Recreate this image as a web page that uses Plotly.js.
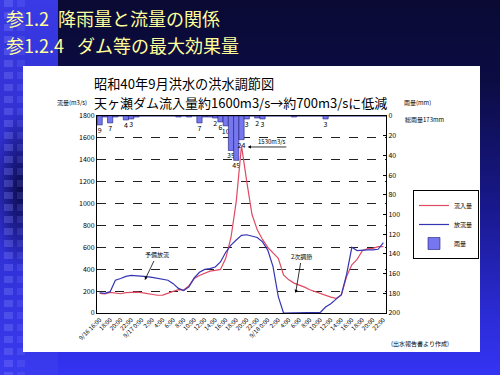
<!DOCTYPE html>
<html><head><meta charset="utf-8">
<script src="https://cdn.plot.ly/plotly-3.0.1.min.js"></script>
<style>
body{margin:0;background:#000;}
#bg{position:absolute;left:0;top:0;width:500px;height:375px;
 background:linear-gradient(to bottom,#0a0a34 0%,#0c0c44 22%,#18188c 55%,#2c2cd8 85%,#3434f4 100%);}
#strip{position:absolute;left:0;top:0;width:58px;height:375px;
 background:radial-gradient(ellipse 26px 80px at 20px 190px,#0c0c50 0%,rgba(50,50,220,0) 100%),linear-gradient(to bottom,#3a3ae6,#2c2cc8 50%,#3a3af0);}
.sq{position:absolute;top:0;height:375px;
 background:repeating-linear-gradient(to bottom,rgba(140,140,255,0.28) 0 7px,rgba(0,0,0,0) 7px 12px);}
#panel{position:absolute;left:23px;top:66px;width:457px;height:286px;background:#fff;}
#chart{position:absolute;left:0;top:0;width:500px;height:375px;}
</style></head>
<body>
<div id="bg"></div><div id="strip"></div>
<div class="sq" style="left:4px;width:9px"></div>
<div class="sq" style="left:17px;width:8px;opacity:0.6"></div>
<div id="panel"></div>
<div id="chart"></div>
<script>
// hourly categories, 9/16 16:00 - 9/18 22:00
const times = [
 '9/16 16:00','9/16 17:00','9/16 18:00','9/16 19:00','9/16 20:00','9/16 21:00','9/16 22:00','9/16 23:00',
 '9/17 0:00','9/17 1:00','9/17 2:00','9/17 3:00','9/17 4:00','9/17 5:00','9/17 6:00','9/17 7:00',
 '9/17 8:00','9/17 9:00','9/17 10:00','9/17 11:00','9/17 12:00','9/17 13:00','9/17 14:00','9/17 15:00',
 '9/17 16:00','9/17 17:00','9/17 18:00','9/17 19:00','9/17 20:00','9/17 21:00','9/17 22:00','9/17 23:00',
 '9/18 0:00','9/18 1:00','9/18 2:00','9/18 3:00','9/18 4:00','9/18 5:00','9/18 6:00','9/18 7:00',
 '9/18 8:00','9/18 9:00','9/18 10:00','9/18 11:00','9/18 12:00','9/18 13:00','9/18 14:00','9/18 15:00',
 '9/18 16:00','9/18 17:00','9/18 18:00','9/18 19:00','9/18 20:00','9/18 21:00','9/18 22:00'];
const tickTimes = [
 '9/16 16:00','9/16 18:00','9/16 20:00','9/16 22:00','9/17 0:00','9/17 2:00','9/17 4:00','9/17 6:00',
 '9/17 8:00','9/17 10:00','9/17 12:00','9/17 14:00','9/17 16:00','9/17 18:00','9/17 20:00','9/17 22:00',
 '9/18 0:00','9/18 2:00','9/18 4:00','9/18 6:00','9/18 8:00','9/18 10:00','9/18 12:00','9/18 14:00',
 '9/18 16:00','9/18 18:00','9/18 20:00','9/18 22:00'];
const tickLabels = [
 '9/16 16:00','18:00','20:00','22:00','9/17 0:00','2:00','4:00','6:00',
 '8:00','10:00','12:00','14:00','16:00','18:00','20:00','22:00',
 '9/18 0:00','2:00','4:00','6:00','8:00','10:00','12:00','14:00',
 '16:00','18:00','20:00','22:00'];
// 雨量 (mm)
const rain = [9,1,7,1,0,4,3,1,0,0,0,0,0,0,0,1,0,1,0,7,1,1,2,6,10,35,45,24,3,0,2,3,0,0,0,0,0,1,0,0,0,0,0,3,0,0,0,0,0,0,0,0,0,0,0];
// 流入量 (m3/s)
const inflow = [180,174,189,185,176,186,190,190,186,177,166,162,163,177,198,213,210,250,315,342,365,383,390,398,500,690,1020,1530,1200,900,760,672,600,551,500,348,303,273,258,236,212,194,176,160,145,133,164,333,440,490,570,588,590,606,606];
// 放流量 (m3/s)
const outflow = [185,180,195,300,315,335,343,341,337,332,326,318,309,299,268,225,204,240,320,372,398,405,420,466,555,620,667,709,715,703,690,650,575,424,150,0,0,0,0,0,0,0,5,55,85,127,167,352,600,570,576,576,576,582,642];
const rainTicks = [0,20,40,60,80,100,120,140,160,180,200];
const flowTicks = [0,200,400,600,800,1000,1200,1400,1600,1800];

const FONT = '"Noto Sans CJK JP", "Noto Sans", sans-serif';
const PL=97, PR=386, PT=116, PB=313;
const X = px => (px-PL)/(PR-PL);
const Y = py => (PB-py)/(PB-PT);

const traces = [
 {type:'bar', x:times, y:rain, yaxis:'y', name:'雨量', legendrank:3,
  marker:{color:'#7676ee', line:{color:'#1c1c7c', width:0.6}}, width:1,
  text: rain.map(v => v>1 ? String(v) : ''), textposition:'outside', constraintext:'none',
  textfont:{size:7, color:'#000', family:FONT}, cliponaxis:false},
 {type:'scatter', mode:'lines', x:times, y:inflow, yaxis:'y2', name:'流入量', legendrank:1,
  line:{color:'#e04a62', width:1.2}},
 {type:'scatter', mode:'lines', x:times, y:outflow, yaxis:'y2', name:'放流量', legendrank:2,
  line:{color:'#3434b4', width:1.2}}
];

function txt(text, px, py, size, anchor, color, extra){
  return Object.assign({xref:'paper', yref:'paper', x:X(px), y:Y(py), text:text, showarrow:false,
    borderpad:0, xanchor:anchor||'left', yanchor:'middle', font:{family:FONT, size:size, color:color||'#000'}}, extra||{});
}

const annotations = [
 txt('参1.2\u2002降雨量と流量の関係', 5, 18, 18, 'left', '#ffff99'),
 txt('参1.2.4\u2002\u00a0ダム等の最大効果量', 5, 44.5, 18, 'left', '#ffff99'),
 txt('昭和40年9月洪水の洪水調節図', 93, 83.5, 13.2, 'left'),
 txt('天ヶ瀬ダム流入量約1600m3/s→約700m3/sに低減', 93, 102, 13, 'left'),
 txt('流量(m3/s)', 88, 103, 6, 'right'),
 txt('雨量(mm)', 403, 102, 6, 'left'),
 txt('総雨量173mm', 404, 120, 6, 'left'),
 txt('(出水報告書より作成)', 390, 343, 6, 'left'),
 txt('1530m3/s', 272, 141, 6, 'center'),
 {xref:'x', yref:'y2', x:28.2, y:1517, ax:40, ay:0, axref:'pixel', ayref:'pixel', text:' ',
  showarrow:true, arrowhead:2, arrowsize:0.8, arrowwidth:0.8, arrowcolor:'#000', font:{size:2}},
 {xref:'x', yref:'y2', x:8.6, y:302, ax:12, ay:-25, text:'予備放流', showarrow:true,
  arrowhead:2, arrowsize:0.8, arrowwidth:0.8, arrowcolor:'#000', font:{family:FONT, size:6, color:'#000'}},
 {xref:'x', yref:'y2', x:37.3, y:183, ax:6, ay:-36, text:'2次調節', showarrow:true,
  arrowhead:2, arrowsize:0.8, arrowwidth:0.8, arrowcolor:'#000', font:{family:FONT, size:6, color:'#000'}}
];

const layout = {
 width:500, height:375, margin:{l:PL, r:500-PR, t:PT, b:375-PB},
 paper_bgcolor:'rgba(0,0,0,0)', plot_bgcolor:'#fff',
 font:{family:FONT, size:7, color:'#000'},
 showlegend:true, bargap:0,
 legend:{x:X(413), y:Y(190), xanchor:'left', yanchor:'top', bgcolor:'#fff', bordercolor:'#000', borderwidth:1,
   font:{size:6, family:FONT}, itemwidth:30, tracegroupgap:0, traceorder:'normal'},
 xaxis:{type:'category', categoryorder:'array', categoryarray:times, range:[-0.5, times.length-0.5],
   tickmode:'array', tickvals:tickTimes, ticktext:tickLabels, tickangle:-45,
   tickfont:{size:6, family:FONT}, showline:true, linecolor:'#000', linewidth:1, mirror:true,
   showgrid:false, ticks:'', zeroline:false},
 yaxis:{side:'right', range:[200,0], tickmode:'array', tickvals:rainTicks, showline:true, linecolor:'#000',
   linewidth:1, ticks:'inside', ticklen:3, tickcolor:'#000', showgrid:false, zeroline:false,
   tickfont:{size:7, family:FONT}},
 yaxis2:{overlaying:'y', side:'left', range:[0,1800], tickmode:'array', tickvals:flowTicks,
   showline:true, linecolor:'#000', linewidth:1, ticks:'', showgrid:true, gridcolor:'#222', gridwidth:1,
   griddash:'dash', zeroline:false, tickfont:{size:7, family:FONT}},
 annotations: annotations
};

Plotly.newPlot('chart', traces, layout, {staticPlot:true, displayModeBar:false});
</script>
</body></html>
